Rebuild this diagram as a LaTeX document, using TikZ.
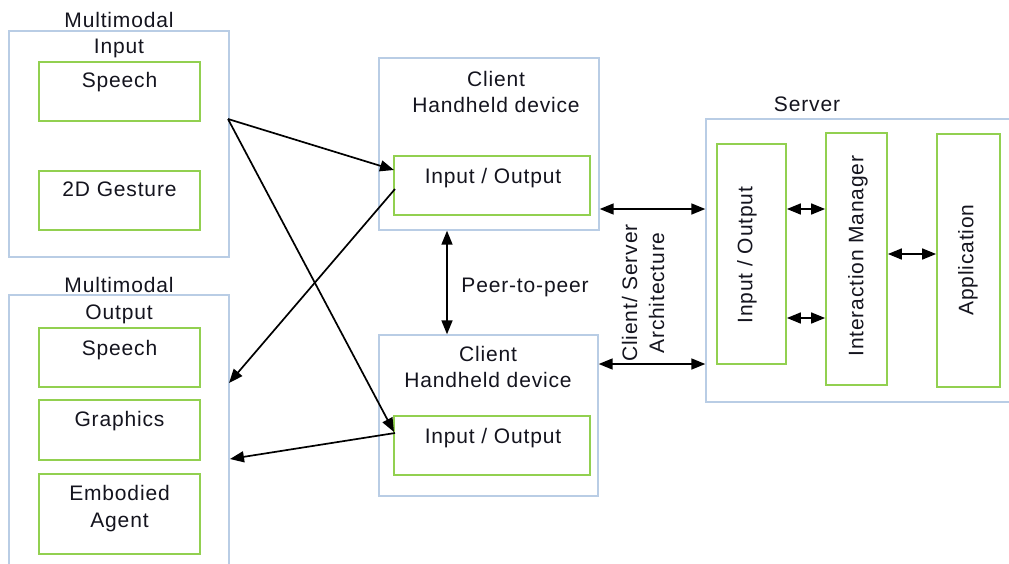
\documentclass[tikz,border=0pt]{standalone}
\usepackage{fontspec}
\setmainfont[LetterSpace=4]{Liberation Sans}
\usetikzlibrary{arrows.meta,fit,calc}
\definecolor{oblue}{RGB}{185,205,229}
\definecolor{igreen}{RGB}{146,208,80}
\definecolor{txt}{RGB}{20,20,30}
\tikzset{
  obox/.style={draw=oblue, line width=1.4pt, inner sep=0pt},
  ibox/.style={draw=igreen, line width=1.8pt, inner sep=0pt},
  lbl/.style={anchor=base, inner sep=0pt, text=txt, font=\fontsize{21}{27}\selectfont},
  rlbl/.style={anchor=center, inner sep=0pt, text=txt, rotate=90, align=center, font=\fontsize{21}{27}\selectfont},
  arr/.style={line width=1.7pt, draw=black, -{Triangle[length=14pt,width=11pt]}},
  darr/.style={line width=1.7pt, draw=black, {Triangle[length=14pt,width=11pt]}-{Triangle[length=14pt,width=11pt]}}
}
\begin{document}
\begin{tikzpicture}[x=1pt,y=-1pt]
\useasboundingbox (0,0) rectangle (1009,563);
\fill[white] (0,0) rectangle (1009,563);
% Multimodal input
\node[obox, fit={(9,31) (229,257)}] (min) {};
\node[ibox, fit={(39,62) (200,121)}] (ispeech) {};
\node[ibox, fit={(39,171) (200,230)}] (igest) {};
\node[lbl] (tmin1) at (119,27) {Multimodal};
\node[lbl] (tmin2) at (119,53) {Input};
\node[lbl] (tis) at (119.5,87) {Speech};
\node[lbl] (tig) at (119.5,196) {2D Gesture};
% Multimodal output
\node[obox, fit={(9,295) (229,580)}] (mout) {};
\node[ibox, fit={(39,328) (200,387)}] (ospeech) {};
\node[ibox, fit={(39,400) (200,460)}] (ograph) {};
\node[ibox, fit={(39,474) (200,554)}] (oagent) {};
\node[lbl] (tmo1) at (119,292) {Multimodal};
\node[lbl] (tmo2) at (119,319) {Output};
\node[lbl] (tos) at (119.5,355) {Speech};
\node[lbl] (tog) at (119.5,426) {Graphics};
\node[lbl] (toa1) at (119.5,500) {Embodied};
\node[lbl] (toa2) at (119.5,527) {Agent};
% Clients
\node[obox, fit={(379,58) (599,230)}] (c1) {};
\node[ibox, fit={(394,156) (590,215)}] (io1) {};
\node[lbl] (tc1a) at (496,86) {Client};
\node[lbl] (tc1b) at (496,112) {Handheld device};
\node[lbl] (tio1) at (493,183) {Input / Output};
\node[obox, fit={(379,335) (598,496)}] (c2) {};
\node[ibox, fit={(394,416) (590,475)}] (io2) {};
\node[lbl] (tc2a) at (488,361) {Client};
\node[lbl] (tc2b) at (488,387) {Handheld device};
\node[lbl] (tio2) at (493,443) {Input / Output};
% Server
\node[obox, fit={(706,119) (1014,402)}] (srv) {};
\node[ibox, fit={(717,144) (786,364)}] (sio) {};
\node[ibox, fit={(826,133) (887,385)}] (im) {};
\node[ibox, fit={(937,134) (1000,387)}] (app) {};
\node[lbl] (tsrv) at (807,111) {Server};
\node[rlbl] (tsio) at (747,255) {Input / Output};
\node[rlbl] (tim) at (858,256) {Interaction Manager};
\node[rlbl] (tapp) at (968,260) {Application};
\node[rlbl] (tcs) at (643,293) {Client/ Server\\Architecture};
\node[lbl] (tp2p) at (525,292) {Peer-to-peer};
% connector points
\coordinate (src) at (228,119);
\coordinate (e1) at (394,170);
\coordinate (e2) at (394,432);
\coordinate (s3) at (395,189);
\coordinate (e3) at (229,383);
\coordinate (s4) at (395,433);
\coordinate (e4) at (230,459);
% arrows
\draw[arr] (src) -- (e1);
\draw[arr] (src) -- (e2);
\draw[arr] (s3) -- (e3);
\draw[arr] (s4) -- (e4);
\draw[darr] (c1.south -| 447,0) -- (c2.north -| 447,0);
\draw[darr] (c1.east |- 0,209) -- (srv.west |- 0,209);
\draw[darr] (c2.east |- 0,364) -- (srv.west |- 0,364);
\draw[darr] (sio.east |- 0,209) -- (im.west |- 0,209);
\draw[darr] (sio.east |- 0,318) -- (im.west |- 0,318);
\draw[darr] (im.east |- 0,254) -- (app.west |- 0,254);
\end{tikzpicture}
\end{document}
